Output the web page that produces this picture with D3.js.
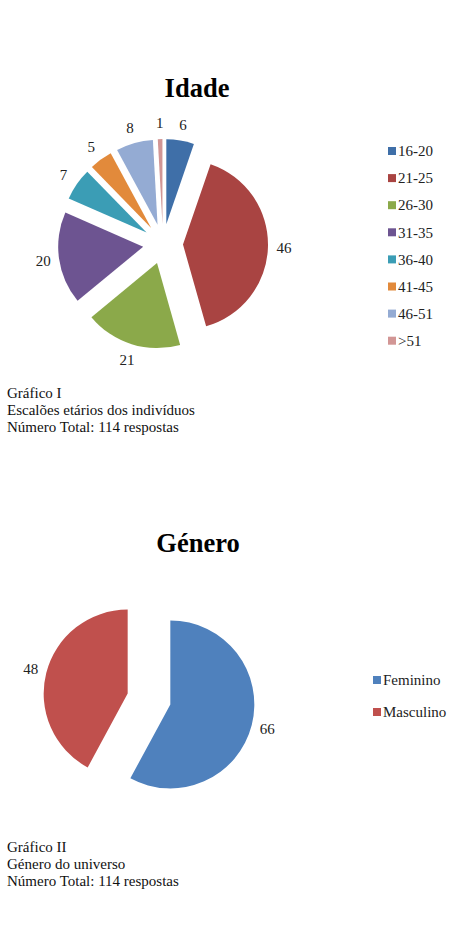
<!DOCTYPE html>
<html lang="pt">
<head>
    <meta charset="UTF-8">
    <title>Idade / Género</title>
    <style>
        body {
            margin: 0;
            background: #fff;
            font-family: 'Liberation Serif', 'Times New Roman', serif;
        }
        .title {
            font-weight: bold;
            font-size: 26.5px;
            fill: #000;
        }
        .label, .legend text {
            font-size: 15px;
            fill: #222;
        }
        .caption {
            font-size: 15px;
            fill: #111;
        }
    </style>
</head>
<body>
    <div id="chart"></div>
    <script src="https://d3js.org/d3.v7.min.js"></script>
    <script>
        // Data
        const ageGroups = ["16-20", "21-25", "26-30", "31-35", "36-40", "41-45", "46-51", ">51"];
        const ageCounts = [6, 46, 21, 20, 7, 5, 8, 1];
        const ageColors = ["#3F6FA8", "#A94442", "#8BA94A", "#6D5491", "#3B9DB5", "#E28A3B", "#94ABD3", "#D29695"];
        const ageCaption = ["Gráfico I", "Escalões etários dos indivíduos", "Número Total: 114 respostas"];

        const genders = ["Feminino", "Masculino"];
        const genderCounts = [66, 48];
        const genderColors = ["#4F81BD", "#C0504D"];
        const genderCaption = ["Gráfico II", "Género do universo", "Número Total: 114 respostas"];

        const width = 461;
        const height = 929;

        const svg = d3.select("#chart")
            .append("svg")
            .attr("width", width)
            .attr("height", height);

        svg.append("rect")
            .attr("width", width)
            .attr("height", height)
            .attr("fill", "#fff");

        function drawPie(opts) {
            const g = svg.append("g");

            g.append("text")
                .attr("class", "title")
                .attr("x", opts.titleX)
                .attr("y", opts.titleY)
                .attr("text-anchor", "middle")
                .text(opts.title);

            const pie = d3.pie().sort(null).value(d => d.value);
            const arc = d3.arc().innerRadius(0).outerRadius(opts.radius);
            const color = d3.scaleOrdinal().domain(opts.names).range(opts.colors);

            const data = opts.names.map((n, i) => ({ name: n, value: opts.values[i] }));
            const arcs = pie(data);

            const pieG = g.append("g")
                .attr("transform", `translate(${opts.cx},${opts.cy})`);

            // exploded slices
            pieG.selectAll("path")
                .data(arcs)
                .enter().append("path")
                .attr("d", arc)
                .attr("fill", d => color(d.data.name))
                .attr("transform", d => {
                    const a = (d.startAngle + d.endAngle) / 2;
                    return `translate(${Math.sin(a) * opts.explode},${-Math.cos(a) * opts.explode})`;
                });

            pieG.selectAll("text")
                .data(arcs)
                .enter().append("text")
                .attr("class", "label")
                .attr("text-anchor", "middle")
                .attr("dy", "0.35em")
                .attr("x", d => Math.sin((d.startAngle + d.endAngle) / 2) * opts.labelRadius)
                .attr("y", d => -Math.cos((d.startAngle + d.endAngle) / 2) * opts.labelRadius)
                .text(d => d.data.value);

            // Legend
            const legend = g.append("g")
                .attr("class", "legend")
                .attr("transform", `translate(${opts.legendX},${opts.legendY})`);

            const items = legend.selectAll("g")
                .data(opts.names)
                .enter().append("g")
                .attr("transform", (d, i) => `translate(0,${i * opts.legendStep})`);

            items.append("rect")
                .attr("x", 0)
                .attr("y", -4)
                .attr("width", 8)
                .attr("height", 8)
                .attr("fill", d => color(d));

            items.append("text")
                .attr("x", 10)
                .attr("dy", "0.35em")
                .text(d => d);

            // Caption
            g.selectAll("text.caption")
                .data(opts.caption)
                .enter().append("text")
                .attr("class", "caption")
                .attr("x", 7)
                .attr("y", (d, i) => opts.captionY + i * 16.8)
                .text(d => d);
        }

        drawPie({
            title: "Idade", titleX: 197, titleY: 97,
            names: ageGroups, values: ageCounts, colors: ageColors,
            cx: 163, cy: 244, radius: 85, explode: 20, labelRadius: 121,
            legendX: 388, legendY: 151, legendStep: 27.1,
            caption: ageCaption, captionY: 398
        });

        drawPie({
            title: "Género", titleX: 198, titleY: 552,
            names: genders, values: genderCounts, colors: genderColors,
            cx: 149, cy: 699, radius: 84, explode: 22, labelRadius: 122,
            legendX: 373, legendY: 680, legendStep: 32,
            caption: genderCaption, captionY: 852
        });
    </script>
</body>
</html>
